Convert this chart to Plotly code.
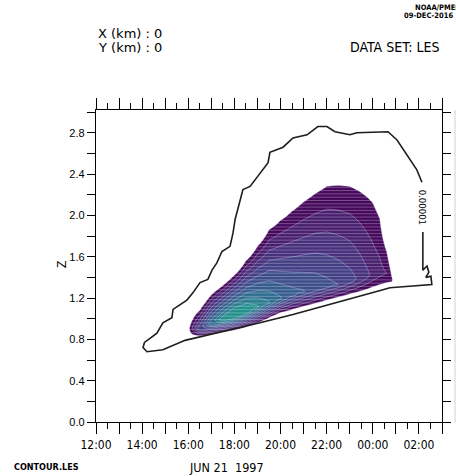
import numpy as np
import pandas as pd
import plotly.graph_objects as go

START = "1997-06-21 12:00"
END = "1997-06-22 03:00"
T0 = pd.Timestamp(START)

# Outer 0.00001 contour, traced as (hours after 12:00, height) vertices.
# Starts just below its label on the right side, runs along the base,
# round the left tip and back along the top to just above the label.
OUTLINE_HOURS = [14.17, 14.17, 14.35, 14.43, 14.30, 14.52, 14.56,
                 12.74, 12.44, 11.31, 10.01, 8.54, 7.11, 5.81, 3.86, 2.90, 2.21,
                 2.04, 2.10,
                 2.34, 2.64, 2.90, 3.29, 3.34, 3.94, 4.20, 4.51, 4.85, 5.03,
                 5.24, 5.46, 5.81, 5.94, 6.03, 6.16, 6.37, 6.68, 7.11, 7.46,
                 7.54, 8.11, 8.54, 9.15, 9.62, 10.01, 10.36, 11.01, 11.31,
                 12.66, 13.05, 13.48, 13.91, 14.13]
OUTLINE_Z = [1.84, 1.47, 1.51, 1.45, 1.40, 1.41, 1.33,
             1.30, 1.28, 1.21, 1.13, 1.04, 0.96, 0.89, 0.79, 0.70, 0.68,
             0.72, 0.77,
             0.81, 0.86, 0.96, 1.01, 1.09, 1.18, 1.25, 1.35, 1.38, 1.47,
             1.54, 1.65, 1.70, 1.83, 1.96, 2.08, 2.25, 2.28, 2.41, 2.51,
             2.61, 2.66, 2.75, 2.78, 2.86, 2.86, 2.81, 2.78, 2.80,
             2.81, 2.73, 2.59, 2.44, 2.32]
OUTLINE_LEVEL = "0.00001"

# Vertical profiles of the shaded field, one per model column
FILL_HOURS = [4.00, 4.50, 5.00, 5.50, 6.00, 6.50, 7.00, 7.50, 8.00, 8.50,
              9.00, 9.50, 10.00, 10.50, 11.00, 11.50, 12.00, 12.30, 12.60,
              12.83, 12.95]
FILL_BASE = [0.84, 0.835, 0.85, 0.87, 0.89, 0.92, 0.96, 1.01, 1.06, 1.09,
             1.12, 1.15, 1.18, 1.21, 1.24, 1.27, 1.31, 1.33, 1.35,
             1.36, 1.36]
FILL_TOP = [0.92, 1.08, 1.23, 1.32, 1.42, 1.56, 1.70, 1.86, 1.95, 2.04,
            2.13, 2.21, 2.28, 2.29, 2.28, 2.22, 2.12, 1.97, 1.65,
            1.40, 1.38]
PEAK_Z = [0.88, 0.90, 0.95, 0.99, 1.03, 1.07, 1.11, 1.15, 1.19, 1.23,
          1.26, 1.29, 1.31, 1.33, 1.36, 1.39, 1.42, 1.44, 1.44,
          1.38, 1.37]
PEAK_LEVEL = [0.5, 5.0, 8.0, 10.0, 11.0, 10.5, 9.3, 8.2, 7.2, 6.5,
              6.1, 5.8, 5.4, 5.0, 4.5, 3.7, 2.8, 2.4, 2.0,
              1.1, 0.5]

# Shading: white below the first level, then one colour per band
BAND_COLORS = ["#ffffff",
               "#46095c", "#48206f", "#47307c", "#433f85", "#3d4e8a",
               "#365d8d", "#2f6d8e", "#297d8e", "#23908c"]
LEVEL_START, LEVEL_END, LEVEL_STEP = 1, 9, 1

Z_TICKS = [0.0, 0.4, 0.8, 1.2, 1.6, 2.0, 2.4, 2.8]

FONT_NARROW = "Liberation Sans Narrow, DejaVu Sans Condensed, Arial Narrow, sans-serif"
FONT_SANS = "Liberation Sans, Arial, sans-serif"
FONT_DEJAVU = "DejaVu Sans, sans-serif"

# ---- build the gridded field from the column profiles ----
heights = np.round(np.arange(0.0, 3.0001, 0.01), 3)
field = np.empty((heights.size, len(FILL_HOURS)))
for j, (b, t, pz, pv) in enumerate(zip(FILL_BASE, FILL_TOP, PEAK_Z, PEAK_LEVEL)):
    if pv > 1.0:
        # keep the gradient going past the edges so neighbouring columns blend
        slope_low = (pv - 1.0) / (pz - b)
        slope_up = (pv - 1.0) / (t - pz)
        knots_z = [b - 1.0, b, pz, t, t + 1.0]
        knots_v = [1.0 - slope_low, 1.0, pv, 1.0, 1.0 - slope_up]
    else:
        knots_z = [b - 1.0, b, t, t + 1.0]
        knots_v = [pv - 10.0, pv, pv, pv - 10.0]
    field[:, j] = np.interp(heights, knots_z, knots_v)

fill_times = T0 + pd.to_timedelta(FILL_HOURS, unit="h")
outline_times = T0 + pd.to_timedelta(OUTLINE_HOURS, unit="h")

n_bands = len(BAND_COLORS)
colorscale = [[i / (n_bands - 1), c] for i, c in enumerate(BAND_COLORS)]

fig = go.Figure()
fig.add_trace(go.Contour(
    x=fill_times, y=heights, z=field,
    autocontour=False,
    contours=dict(start=LEVEL_START, end=LEVEL_END, size=LEVEL_STEP,
                  coloring="fill", showlines=True),
    line=dict(color="rgba(225,215,250,0.45)", width=0.8, smoothing=0.6),
    colorscale=colorscale, showscale=False, hoverinfo="skip",
))

# fine horizontal raster lines that run through the shading
raster_z = np.arange(0.80, 2.36, 0.032)
raster_x, raster_y = [], []
for zr in raster_z:
    raster_x += [START, END, None]
    raster_y += [zr, zr, None]
fig.add_trace(go.Scatter(
    x=raster_x, y=raster_y, mode="lines",
    line=dict(color="rgba(255,255,255,0.28)", width=1),
    hoverinfo="skip", showlegend=False,
))

fig.add_trace(go.Scatter(
    x=outline_times, y=OUTLINE_Z, mode="lines",
    line=dict(color="#1e1e1e", width=1.6),
    hoverinfo="skip", showlegend=False,
))

# ---- layout helpers (pixel positions of the 456x476 page) ----
PLOT_L, PLOT_R, PLOT_T, PLOT_B = 96, 442, 110, 422


def px_x(px):
    return (px - PLOT_L) / (PLOT_R - PLOT_L)


def px_y(py):
    return (PLOT_B - py) / (PLOT_B - PLOT_T)


hour_ticks = pd.date_range(START, END, freq="1h")
hour_text = [t.strftime("%H:%M") if t.hour % 2 == 0 else "" for t in hour_ticks]

axis_common = dict(showline=True, linecolor="black", linewidth=1.3,
                   mirror="ticks", ticks="outside", tickcolor="black",
                   tickwidth=1.2, showgrid=False, zeroline=False,
                   automargin=False)

fig.update_layout(
    width=456, height=476,
    margin=dict(l=PLOT_L, r=456 - PLOT_R, t=PLOT_T, b=476 - PLOT_B,
                autoexpand=False),
    paper_bgcolor="white", plot_bgcolor="white",
    showlegend=False,
    xaxis=dict(range=[START, END], type="date",
               tickmode="array", tickvals=hour_ticks, ticktext=hour_text,
               ticklen=11,
               minor=dict(tickmode="linear", tick0=START, dtick=30 * 60 * 1000,
                          ticks="outside", ticklen=6, tickcolor="black",
                          tickwidth=1.2),
               tickfont=dict(family=FONT_NARROW, size=12, color="black"),
               **axis_common),
    yaxis=dict(range=[0, 3.02], tickmode="array", tickvals=Z_TICKS,
               ticktext=[f"{v:.1f}" for v in Z_TICKS], ticklen=8,
               minor=dict(tickmode="linear", tick0=0, dtick=0.2,
                          ticks="outside", ticklen=8, tickcolor="black",
                          tickwidth=1.2),
               tickfont=dict(family=FONT_SANS, size=11, color="black"),
               **axis_common),
)


def note(text, px, py, xanchor="left", size=12, family=FONT_NARROW, angle=0):
    fig.add_annotation(text=text, xref="paper", yref="paper",
                       x=px_x(px), y=px_y(py), xanchor=xanchor, yanchor="middle",
                       showarrow=False, textangle=angle,
                       font=dict(family=family, size=size, color="black"))


note("X (km) : 0", 96, 33, size=13, family=FONT_DEJAVU)
note("Y (km) : 0", 96, 47, size=13, family=FONT_DEJAVU)
note("DATA SET: LES", 442, 47, xanchor="right", size=14)
note("JUN 21  1997", 226, 467, xanchor="center", size=12.5)
note("<b>CONTOUR.LES</b>", 12, 467, size=9)
note("<b>FERRET Ver. 6.96</b>", 418, -2, size=7.5)
note("<b>NOAA/PMEL TMAP</b>", 413, 7, size=7.5)
note("<b>09-DEC-2016 14:29:51</b>", 402, 16, size=7.5)
note("Z", 62, 265, xanchor="center", size=12, family=FONT_SANS, angle=-90)

fig.add_annotation(text=OUTLINE_LEVEL, x=T0 + pd.Timedelta(hours=14.15), y=2.08,
                   xref="x", yref="y", showarrow=False, textangle=90,
                   font=dict(family=FONT_NARROW, size=9.5, color="black"))

# edge of the colour key just beyond the right axis
fig.add_shape(type="line", xref="paper", yref="paper",
              x0=px_x(455), x1=px_x(455), y0=0, y1=1,
              line=dict(color="#d0d0d0", width=1))

fig.write_html("out.html")
